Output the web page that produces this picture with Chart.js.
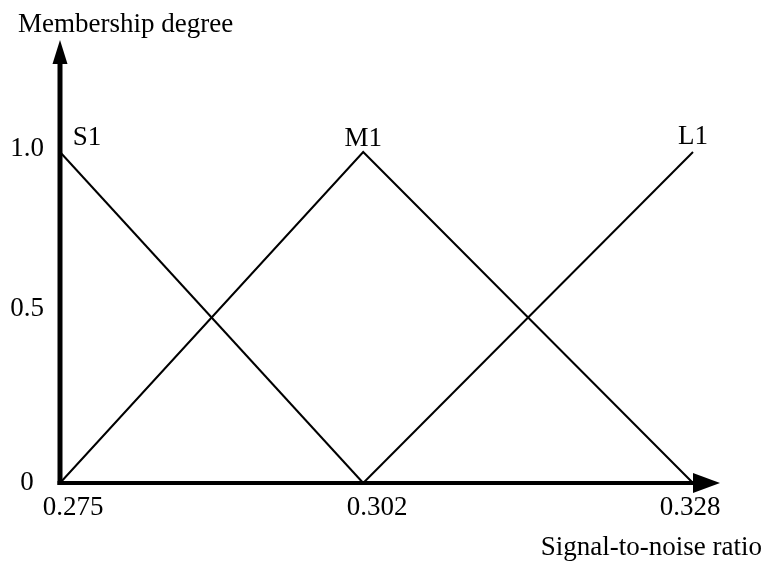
<!DOCTYPE html>
<html>
<head>
<meta charset="utf-8">
<script src="https://cdn.jsdelivr.net/npm/chart.js@4.4.1/dist/chart.umd.min.js"></script>
<style>
  html, body { margin: 0; padding: 0; background: #ffffff; }
  #wrap { width: 769px; height: 566px; }
</style>
</head>
<body>
<div id="wrap"><canvas id="chart"></canvas></div>
<script>
// Signal-to-noise ratio break points (x) and membership degree ticks (y)
const snrTicks = [0.275, 0.302, 0.328];
const snrTickLabels = ['0.275', '0.302', '0.328'];
const degreeTicks = [0, 0.5, 1.0];
const degreeTickLabels = ['0', '0.5', '1.0'];

// Triangular membership functions
const seriesNames = ['S1', 'M1', 'L1'];
const s1X = [0.275, 0.302];
const s1Y = [1, 0];
const m1X = [0.275, 0.302, 0.328];
const m1Y = [0, 1, 0];
const l1X = [0.302, 0.328];
const l1Y = [0, 1];

const FONT = '"Liberation Serif", "Times New Roman", serif';

// Linear scale whose segments between break values get their own share of the width
class SegmentedScale extends Chart.LinearScale {
  _frac(value) {
    const v = this.options.breakValues, f = this.options.breakFractions;
    if (value <= v[0]) return f[0] + (value - v[0]) / (v[1] - v[0]) * (f[1] - f[0]);
    for (let i = 0; i < v.length - 1; i++) {
      if (value <= v[i + 1]) return f[i] + (value - v[i]) / (v[i + 1] - v[i]) * (f[i + 1] - f[i]);
    }
    const n = v.length - 1;
    return f[n] + (value - v[n]) / (v[n] - v[n - 1]) * (f[n] - f[n - 1]);
  }
  getPixelForValue(value) {
    return this.getPixelForDecimal(this._frac(value));
  }
  getValueForPixel(pixel) {
    const d = this.getDecimalForPixel(pixel);
    const v = this.options.breakValues, f = this.options.breakFractions;
    for (let i = 0; i < v.length - 1; i++) {
      if (d <= f[i + 1] || i === v.length - 2) return v[i] + (d - f[i]) / (f[i + 1] - f[i]) * (v[i + 1] - v[i]);
    }
    return v[v.length - 1];
  }
}
SegmentedScale.id = 'segmented';
SegmentedScale.defaults = Chart.LinearScale.defaults;
Chart.register(SegmentedScale);

const toPoints = (xs, ys) => xs.map((x, i) => ({ x: x, y: ys[i] }));

const lineStyle = {
  borderColor: '#000000',
  borderWidth: 2,
  pointRadius: 0,
  fill: false,
  tension: 0,
  clip: false
};

// Axes with arrow heads, tick labels, series names and axis titles
const axesPlugin = {
  id: 'arrowAxes',
  afterDatasetsDraw(chart) {
    const { ctx } = chart;
    const xs = chart.scales.x, ys = chart.scales.y;
    const x0 = xs.getPixelForValue(snrTicks[0]);
    const y0 = ys.getPixelForValue(0);
    const xEnd = xs.getPixelForValue(snrTicks[snrTicks.length - 1]);
    ctx.save();
    ctx.fillStyle = '#000';
    ctx.strokeStyle = '#000';
    ctx.lineCap = 'butt';

    // y axis
    ctx.lineWidth = 5;
    ctx.beginPath();
    ctx.moveTo(x0, y0 + 2);
    ctx.lineTo(x0, 62);
    ctx.stroke();
    ctx.beginPath();
    ctx.moveTo(x0, 40);
    ctx.lineTo(x0 - 7.5, 64);
    ctx.lineTo(x0 + 7.5, 64);
    ctx.closePath();
    ctx.fill();

    // x axis
    ctx.lineWidth = 4;
    ctx.beginPath();
    ctx.moveTo(x0 - 2.5, y0);
    ctx.lineTo(xEnd + 1, y0);
    ctx.stroke();
    ctx.beginPath();
    ctx.moveTo(720, y0);
    ctx.lineTo(xEnd, y0 - 10);
    ctx.lineTo(xEnd, y0 + 10);
    ctx.closePath();
    ctx.fill();

    ctx.font = '27px ' + FONT;
    ctx.textBaseline = 'middle';
    ctx.textAlign = 'center';

    // x tick labels
    const xLabelShift = [13, 14, -3];
    snrTicks.forEach((v, i) => {
      ctx.fillText(snrTickLabels[i], xs.getPixelForValue(v) + xLabelShift[i], y0 + 25);
    });

    // y tick labels
    const yLabelShift = [0, -9, -3];
    degreeTicks.forEach((v, i) => {
      ctx.fillText(degreeTickLabels[i], 27, ys.getPixelForValue(v) + yLabelShift[i]);
    });

    // series names above each peak
    ctx.fillText(seriesNames[0], xs.getPixelForValue(s1X[0]) + 27, ys.getPixelForValue(1) - 14);
    ctx.fillText(seriesNames[1], xs.getPixelForValue(m1X[1]), ys.getPixelForValue(1) - 13);
    ctx.fillText(seriesNames[2], xs.getPixelForValue(l1X[1]), ys.getPixelForValue(1) - 15);

    // axis titles
    ctx.textAlign = 'left';
    ctx.textBaseline = 'alphabetic';
    ctx.fillText('Membership degree', 18, 32);
    ctx.textAlign = 'right';
    ctx.fillText('Signal-to-noise ratio', 762, 555);
    ctx.restore();
  }
};

new Chart(document.getElementById('chart'), {
  type: 'line',
  data: {
    datasets: [
      Object.assign({ label: seriesNames[0], data: toPoints(s1X, s1Y) }, lineStyle),
      Object.assign({ label: seriesNames[1], data: toPoints(m1X, m1Y) }, lineStyle),
      Object.assign({ label: seriesNames[2], data: toPoints(l1X, l1Y) }, lineStyle)
    ]
  },
  options: {
    responsive: true,
    maintainAspectRatio: false,
    animation: false,
    layout: { padding: { left: 60, right: 76, top: 152, bottom: 83 } },
    plugins: { legend: { display: false }, tooltip: { enabled: false } },
    scales: {
      x: {
        type: 'segmented',
        min: snrTicks[0],
        max: snrTicks[snrTicks.length - 1],
        breakValues: snrTicks,
        breakFractions: [0, 0.479, 1],
        display: false
      },
      y: {
        type: 'linear',
        min: 0,
        max: 1,
        display: false
      }
    }
  },
  plugins: [axesPlugin]
});
</script>
</body>
</html>
